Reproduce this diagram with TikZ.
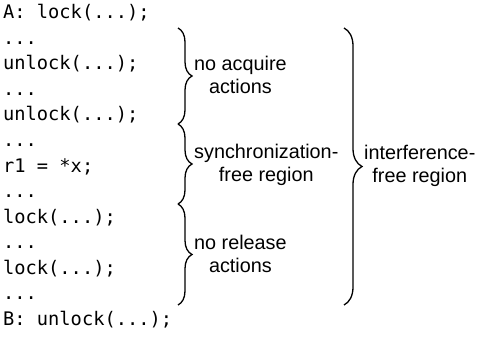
\documentclass[tikz,border=0pt]{standalone}
\usepackage{fontspec}
\setmainfont{Liberation Sans}
\newfontfamily\codefont{DejaVu Sans Mono}
\usetikzlibrary{decorations.pathreplacing}
\tikzset{
  code/.style={anchor=base west, inner sep=0pt, font=\codefont\fontsize{18.7}{22}\selectfont},
  lbl/.style={anchor=west, inner sep=2pt, align=center, font=\fontsize{19.8}{23}\selectfont},
  bracestyle/.style={draw, line width=1.3pt, decorate, decoration={brace, amplitude=#1}},
}
\begin{document}
\begin{tikzpicture}[x=1pt,y=-1pt]
\useasboundingbox (0,0) rectangle (484,339);
\node[code] (l1)  at (3,19)    {A: lock(...);};
\node[code] (l2)  at (3,44.5)  {...};
\node[code] (l3)  at (3,70)    {unlock(...);};
\node[code] (l4)  at (3,95.5)  {...};
\node[code] (l5)  at (3,121)   {unlock(...);};
\node[code] (l6)  at (3,146.5) {...};
\node[code] (l7)  at (3,172)   {r1 = *x;};
\node[code] (l8)  at (3,197.5) {...};
\node[code] (l9)  at (3,223)   {lock(...);};
\node[code] (l10) at (3,248.5) {...};
\node[code] (l11) at (3,274)   {lock(...);};
\node[code] (l12) at (3,299.5) {...};
\node[code] (l13) at (3,325)   {B: unlock(...);};
% brace end points
\coordinate (a0) at (178,28);
\coordinate (a1) at (178,124);
\coordinate (a2) at (178,204);
\coordinate (a3) at (178,305);
\coordinate (b0) at (344,28);
\coordinate (b1) at (344,305);
\draw[bracestyle=14] (a0) -- (a1);
\draw[bracestyle=14] (a1) -- (a2);
\draw[bracestyle=14] (a2) -- (a3);
\draw[bracestyle=18] (b0) -- (b1);
\node[lbl] (t1) at (192,75) {no acquire\\actions};
\node[lbl] (t2) at (192,165) {synchronization-\\free region};
\node[lbl] (t3) at (192,254) {no release\\actions};
\node[lbl] (t4) at (362,166) {interference-\\free region};
\end{tikzpicture}
\end{document}
